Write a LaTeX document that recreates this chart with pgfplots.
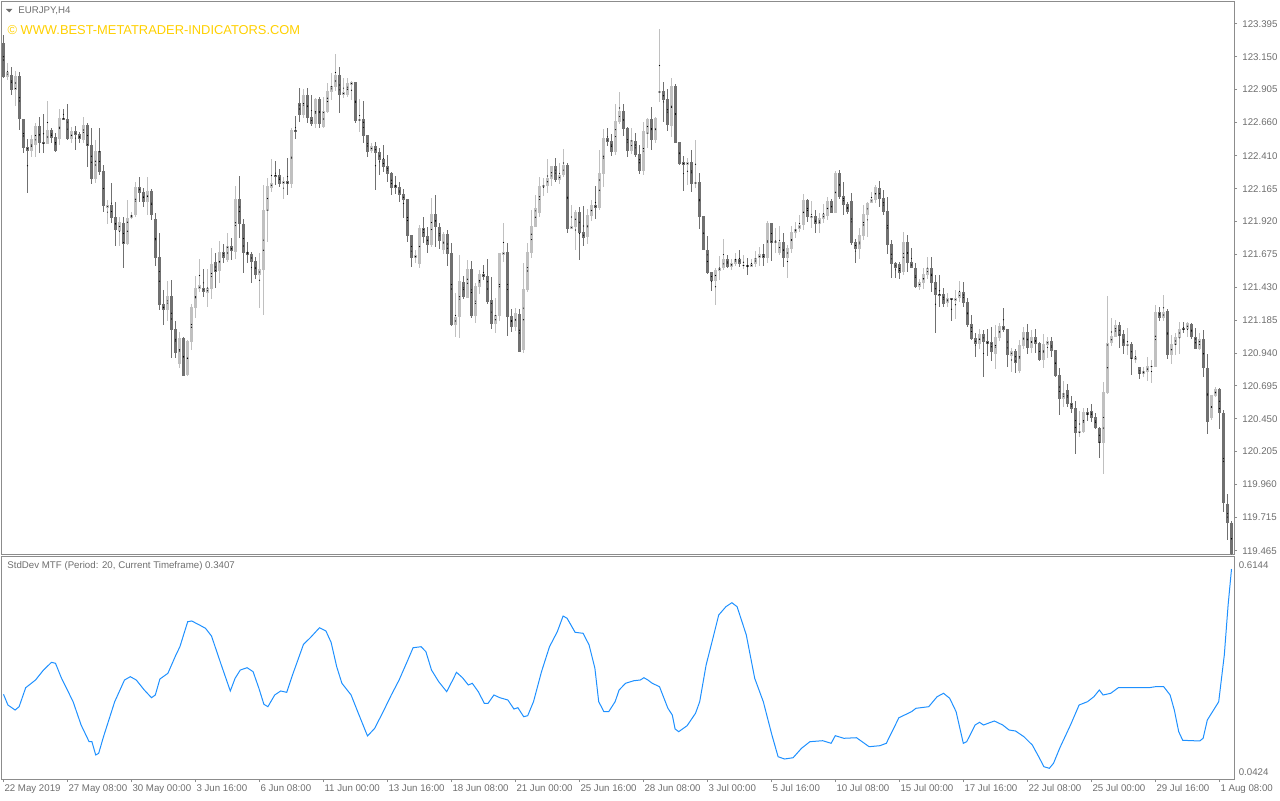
\documentclass[border=0pt]{standalone}
\usepackage{pgfplots}
\pgfplotsset{compat=1.18}
\usepackage{pgfplotstable}
\usepackage{fontspec}
\setmainfont{Liberation Sans}
\definecolor{bull}{RGB}{192,192,192}
\definecolor{bear}{RGB}{112,112,112}
\definecolor{txt}{RGB}{110,110,110}
\definecolor{frm}{RGB}{140,140,140}
\definecolor{sd}{RGB}{30,144,255}
\definecolor{gold}{RGB}{255,208,0}
\newcommand{\lbl}{\fontsize{4.85}{5.8}\selectfont}
\pgfplotsset{candle/.style={only marks, mark=*, mark size=0.01pt, mark options={draw=none, fill=none}}}

\pgfplotstableread{
k o h l c
0 123.250 123.312 122.991 123.001
1 123.001 123.101 122.976 123.038
2 123.014 123.076 122.864 122.902
3 122.902 123.046 122.782 123.006
4 123.006 123.038 122.603 122.683
5 122.685 122.685 122.434 122.471
6 122.479 122.541 122.136 122.449
7 122.449 122.566 122.400 122.536
8 122.491 122.658 122.404 122.633
9 122.633 122.703 122.430 122.509
10 122.514 122.723 122.430 122.499
11 122.499 122.822 122.499 122.603
12 122.603 122.616 122.509 122.546
13 122.553 122.579 122.441 122.447
14 122.538 122.758 122.491 122.691
15 122.691 122.765 122.678 122.688
16 122.685 122.797 122.529 122.536
17 122.536 122.623 122.504 122.596
18 122.596 122.633 122.454 122.566
19 122.573 122.591 122.509 122.536
20 122.534 122.698 122.509 122.641
21 122.641 122.658 122.330 122.484
22 122.491 122.616 122.201 122.238
23 122.238 122.529 122.210 122.447
24 122.447 122.616 122.268 122.290
25 122.298 122.342 121.994 122.036
26 122.024 122.081 121.902 122.044
27 122.044 122.206 121.912 121.949
28 121.957 122.069 121.738 121.857
29 121.852 121.957 121.738 121.919
30 121.912 121.957 121.572 121.753
31 121.753 122.086 121.746 121.945
32 121.945 121.994 121.937 121.969
33 121.969 122.218 121.957 122.180
34 122.180 122.255 122.069 122.136
35 122.141 122.168 122.031 122.069
36 122.069 122.255 121.969 122.148
37 122.148 122.168 121.932 121.969
38 121.940 121.982 121.589 121.651
39 121.654 121.833 121.261 121.298
40 121.303 121.410 121.149 121.261
41 121.261 121.479 121.179 121.365
42 121.365 121.485 120.905 121.112
43 121.119 121.179 120.905 120.942
44 120.858 121.099 120.830 121.054
45 121.054 121.062 120.768 120.768
46 120.776 121.037 120.768 121.029
47 121.024 121.303 120.962 121.285
48 121.278 121.517 121.203 121.427
49 121.415 121.641 121.397 121.447
50 121.430 121.567 121.360 121.395
51 121.390 121.567 121.285 121.423
52 121.417 121.725 121.343 121.604
53 121.619 121.688 121.423 121.546
54 121.554 121.775 121.464 121.693
55 121.693 121.753 121.614 121.651
56 121.634 121.837 121.621 121.738
57 121.738 121.796 121.634 121.701
58 121.693 122.186 121.639 122.089
59 122.089 122.260 121.800 121.904
60 121.902 121.937 121.539 121.688
61 121.693 121.770 121.614 121.671
62 121.678 121.696 121.464 121.621
63 121.626 121.658 121.492 121.522
64 121.522 121.688 121.278 121.567
65 121.559 122.193 121.223 122.007
66 122.001 122.243 121.770 122.186
67 122.173 122.387 122.143 122.210
68 122.268 122.372 122.193 122.262
69 122.268 122.312 122.180 122.201
70 122.201 122.255 122.086 122.225
71 122.223 122.397 122.118 122.201
72 122.201 122.616 122.173 122.603
73 122.603 122.708 122.536 122.591
74 122.807 122.914 122.665 122.715
75 122.715 122.914 122.691 122.864
76 122.864 122.914 122.653 122.695
77 122.703 122.864 122.633 122.648
78 122.648 122.844 122.616 122.835
79 122.835 122.852 122.616 122.648
80 122.628 122.852 122.616 122.745
81 122.740 122.952 122.728 122.894
82 122.889 123.026 122.827 122.932
83 122.926 123.170 122.896 123.014
84 123.014 123.076 122.732 122.864
85 122.864 122.989 122.844 122.889
86 122.864 122.996 122.852 122.952
87 122.939 122.971 122.832 122.964
88 122.964 122.964 122.658 122.673
89 122.673 122.832 122.591 122.685
90 122.685 122.820 122.504 122.561
91 122.566 122.566 122.404 122.441
92 122.447 122.504 122.430 122.484
93 122.484 122.516 122.161 122.430
94 122.439 122.467 122.268 122.380
95 122.385 122.491 122.292 122.325
96 122.335 122.417 122.218 122.275
97 122.285 122.292 122.118 122.173
98 122.193 122.260 122.124 122.173
99 122.180 122.213 122.069 122.118
100 122.126 122.168 121.945 122.081
101 122.089 122.089 121.770 121.815
102 121.820 121.820 121.579 121.651
103 121.651 121.708 121.609 121.671
104 121.602 121.895 121.576 121.870
105 121.870 121.957 121.763 121.807
106 121.813 121.882 121.684 121.746
107 121.746 122.094 121.733 121.977
108 121.977 122.119 121.733 121.878
109 121.882 121.912 121.716 121.778
110 121.708 121.845 121.678 121.828
111 121.828 121.857 121.589 121.678
112 121.688 121.763 121.141 121.149
113 121.149 121.385 121.057 121.211
114 121.206 121.671 121.050 121.479
115 121.472 121.514 121.341 121.355
116 121.355 121.634 121.348 121.567
117 121.567 121.626 121.199 121.216
118 121.216 121.460 121.162 121.440
119 121.435 121.564 121.380 121.529
120 121.529 121.596 121.485 121.509
121 121.514 121.641 121.305 121.323
122 121.335 121.505 121.117 121.156
123 121.156 121.348 121.091 121.223
124 121.216 121.688 121.181 121.688
125 121.671 121.912 121.616 121.696
126 121.696 121.758 121.069 121.211
127 121.216 121.268 121.099 121.136
128 121.136 121.278 121.106 121.236
129 121.231 121.273 120.950 120.950
130 120.962 121.614 120.938 121.417
131 121.410 121.758 121.397 121.696
132 121.688 122.007 121.646 121.887
133 121.882 122.119 121.882 122.024
134 121.986 122.255 121.957 122.186
135 122.180 122.243 122.111 122.193
136 122.186 122.385 122.136 122.248
137 122.238 122.335 122.188 122.335
138 122.335 122.392 122.218 122.230
139 122.230 122.359 122.201 122.268
140 122.268 122.462 122.255 122.342
141 122.342 122.359 121.833 121.865
142 121.865 122.044 121.865 121.887
143 121.882 122.007 121.708 121.994
144 121.994 122.031 121.634 121.837
145 121.840 122.039 121.738 121.800
146 121.807 122.012 121.753 121.969
147 121.964 122.081 121.927 122.044
148 122.044 122.186 121.940 122.024
149 122.024 122.454 122.007 122.285
150 122.275 122.609 122.180 122.541
151 122.541 122.623 122.484 122.516
152 122.521 122.574 122.409 122.441
153 122.441 122.797 122.417 122.670
154 122.665 122.889 122.648 122.747
155 122.747 122.802 122.559 122.609
156 122.616 122.628 122.400 122.447
157 122.447 122.620 122.424 122.529
158 122.524 122.583 122.400 122.417
159 122.422 122.491 122.275 122.298
160 122.298 122.665 122.268 122.596
161 122.573 122.695 122.467 122.685
162 122.685 122.773 122.454 122.529
163 122.529 122.703 122.509 122.695
164 122.882 123.357 122.814 122.894
165 122.894 122.964 122.665 122.827
166 122.835 122.914 122.596 122.641
167 122.633 122.993 122.553 122.932
168 122.934 122.946 122.504 122.509
169 122.514 122.514 122.342 122.355
170 122.367 122.409 122.148 122.342
171 122.342 122.397 122.198 122.367
172 122.367 122.454 122.143 122.201
173 122.201 122.529 122.168 122.216
174 122.216 122.285 121.870 121.957
175 121.962 121.962 121.708 121.708
176 121.708 121.813 121.534 121.539
177 121.542 121.546 121.405 121.479
178 121.479 121.572 121.298 121.559
179 121.554 121.664 121.485 121.576
180 121.572 121.790 121.559 121.639
181 121.639 121.671 121.572 121.584
182 121.584 121.639 121.559 121.609
183 121.609 121.688 121.589 121.646
184 121.646 121.708 121.584 121.609
185 121.591 121.671 121.564 121.596
186 121.596 121.646 121.522 121.589
187 121.584 121.639 121.579 121.604
188 121.604 121.701 121.584 121.651
189 121.646 121.733 121.589 121.676
190 121.676 121.758 121.589 121.646
191 121.646 121.925 121.609 121.907
192 121.907 121.912 121.628 121.758
193 121.758 121.870 121.684 121.778
194 121.688 121.887 121.676 121.768
195 121.768 121.833 121.584 121.651
196 121.651 121.746 121.502 121.721
197 121.718 121.887 121.688 121.843
198 121.837 121.919 121.800 121.870
199 121.865 121.969 121.845 121.895
200 121.895 122.126 121.857 122.081
201 122.081 122.094 121.915 121.957
202 121.949 122.076 121.875 121.964
203 121.962 122.007 121.837 121.902
204 121.902 121.989 121.837 121.949
205 121.940 122.051 121.907 121.977
206 121.964 122.106 121.932 122.074
207 122.074 122.086 121.982 121.989
208 121.989 122.300 121.982 122.285
209 122.285 122.310 122.089 122.101
210 122.111 122.218 121.969 122.044
211 122.051 122.069 121.977 121.989
212 122.074 122.136 121.746 121.763
213 121.770 121.788 121.614 121.716
214 121.716 121.870 121.639 121.820
215 121.813 122.044 121.783 121.977
216 121.969 122.064 121.803 122.064
217 122.061 122.143 122.057 122.089
218 122.081 122.198 122.061 122.176
219 122.176 122.223 122.031 122.089
220 122.094 122.156 121.969 121.994
221 121.999 122.104 121.678 121.746
222 121.751 121.783 121.502 121.604
223 121.609 121.621 121.502 121.572
224 121.602 121.621 121.492 121.539
225 121.542 121.845 121.522 121.766
226 121.766 121.820 121.546 121.614
227 121.617 121.721 121.572 121.576
228 121.576 121.609 121.423 121.435
229 121.435 121.497 121.410 121.467
230 121.460 121.572 121.417 121.529
231 121.522 121.658 121.490 121.572
232 121.572 121.658 121.397 121.464
233 121.467 121.522 121.087 121.373
234 121.380 121.522 121.285 121.375
235 121.380 121.430 121.285 121.305
236 121.311 121.385 121.285 121.348
237 121.348 121.355 121.179 121.335
238 121.328 121.410 121.191 121.348
239 121.348 121.477 121.323 121.393
240 121.393 121.467 121.281 121.315
241 121.318 121.348 121.132 121.149
242 121.156 121.223 121.037 121.044
243 121.050 121.087 120.912 121.007
244 121.007 121.119 120.970 121.082
245 121.082 121.112 120.763 121.024
246 121.030 121.117 120.918 121.007
247 121.024 121.136 120.883 120.950
248 120.933 121.149 120.821 121.062
249 121.054 121.162 121.032 121.144
250 121.144 121.278 121.099 121.112
251 121.119 121.119 120.838 120.925
252 120.920 120.975 120.801 120.957
253 120.957 120.970 120.793 120.868
254 120.806 121.037 120.789 121.000
255 120.992 121.132 120.970 121.099
256 121.099 121.156 120.933 120.980
257 120.980 121.112 120.938 121.062
258 121.062 121.119 120.938 121.007
259 121.017 121.024 120.880 120.888
260 120.888 121.080 120.830 121.007
261 121.000 121.062 120.905 121.032
262 121.032 121.062 120.908 120.957
263 120.962 120.962 120.763 120.768
264 120.776 120.833 120.478 120.597
265 120.597 120.731 120.539 120.639
266 120.664 120.707 120.539 120.560
267 120.569 120.619 120.495 120.522
268 120.532 120.582 120.187 120.341
269 120.341 120.507 120.316 120.358
270 120.349 120.532 120.341 120.502
271 120.502 120.532 120.435 120.478
272 120.507 120.560 120.428 120.457
273 120.465 120.495 120.373 120.378
274 120.383 120.390 120.159 120.271
275 120.271 120.726 120.035 120.651
276 120.644 121.365 120.639 121.017
277 121.012 121.203 120.992 121.067
278 121.062 121.186 121.057 121.147
279 121.154 121.173 120.980 121.069
280 121.082 121.112 120.933 120.994
281 120.994 121.124 120.925 121.007
282 121.007 121.024 120.781 120.893
283 120.888 120.962 120.863 120.908
284 120.833 120.838 120.744 120.781
285 120.781 120.833 120.763 120.806
286 120.801 120.912 120.731 120.843
287 120.838 120.888 120.718 120.843
288 120.838 121.298 120.833 121.244
289 121.244 121.285 121.181 121.203
290 121.203 121.373 121.181 121.244
291 121.255 121.273 120.893 120.925
292 120.925 121.074 120.863 121.005
293 121.000 121.087 120.925 121.062
294 121.057 121.173 120.933 121.124
295 121.124 121.173 121.087 121.112
296 121.117 121.173 121.062 121.162
297 121.162 121.166 121.042 121.062
298 121.062 121.124 120.968 120.975
299 120.968 121.087 120.962 121.042
300 121.042 121.112 120.759 120.826
301 120.826 120.933 120.336 120.428
302 120.453 120.627 120.445 120.627
303 120.619 120.684 120.610 120.669
304 120.669 120.677 120.378 120.490
305 120.490 120.515 119.752 119.819
306 119.814 119.888 119.545 119.670
307 119.670 119.689 119.421 119.441
}\candles

\pgfplotstableread{
k v
0 0.2548
1.1 0.2241
2.9 0.2097
3.9 0.2192
5.55 0.2737
8.0 0.2958
10.0 0.3245
12.0 0.3466
13.0 0.3438
14.45 0.3024
17.4 0.2336
19.4 0.1667
21.4 0.1188
22.1 0.1188
23.05 0.0806
23.8 0.0855
25.0 0.1331
27.8 0.2336
30.25 0.2958
31.7 0.3053
33.2 0.2958
35.2 0.2671
37.0 0.2450
37.95 0.2528
39.1 0.2987
41.1 0.3151
43.1 0.3676
44.1 0.3914
46.05 0.4632
47.05 0.4652
49.0 0.4537
50.5 0.4442
52.0 0.4221
54.45 0.3389
56.7 0.2643
57.9 0.3007
59.2 0.3245
60.9 0.3311
62.4 0.3197
63.85 0.2720
65.1 0.2261
66.1 0.2192
67.8 0.2528
69.3 0.2643
70.8 0.2605
72.25 0.3102
75.0 0.3983
76.7 0.4172
79.0 0.4459
80.6 0.4365
81.9 0.4040
83.3 0.3340
84.6 0.2864
86.9 0.2528
88.55 0.2049
91.0 0.1351
92.8 0.1572
95.0 0.2069
96.95 0.2528
98.9 0.2958
100.9 0.3484
102.4 0.3885
104.4 0.3914
105.6 0.3771
107.0 0.3245
108.8 0.2910
110.8 0.2623
112.3 0.2958
113.25 0.3179
114.75 0.3024
116.2 0.2815
117.2 0.2864
118.7 0.2623
120.2 0.2290
121.15 0.2290
122.6 0.2528
124.1 0.2450
126.1 0.2384
127.6 0.2126
128.6 0.2163
130.05 0.1905
131.05 0.1934
132.5 0.2336
134.5 0.3197
136.5 0.3914
138.45 0.4345
139.9 0.4795
140.9 0.4729
142.9 0.4327
144.9 0.4299
146.4 0.3963
147.85 0.3294
148.8 0.2336
150.1 0.2049
151.3 0.2049
152.9 0.2336
153.9 0.2671
155.5 0.2864
157.6 0.2938
159.2 0.2958
160.1 0.3024
161.1 0.2958
162.2 0.2864
164.0 0.2766
166.1 0.2146
167.2 0.1954
167.9 0.1552
168.8 0.1475
170.9 0.1647
173.0 0.2003
174.05 0.2336
175.65 0.3389
177.45 0.4201
178.8 0.4824
180.6 0.5062
182.1 0.5177
183.4 0.5062
185.7 0.4250
187.8 0.3007
189.95 0.2336
192.1 0.1380
193.65 0.0757
195.25 0.0691
197.4 0.0728
199.5 0.0998
201.6 0.1188
204.8 0.1216
206.9 0.1142
207.95 0.1360
210.1 0.1285
213.25 0.1302
216.4 0.1044
219.1 0.1073
220.7 0.1142
223.85 0.1876
227.0 0.2049
228.1 0.2146
231.3 0.2192
233.4 0.2479
235.0 0.2577
236.55 0.2433
238.15 0.2049
239.95 0.1142
240.8 0.1188
242.9 0.1667
244.0 0.1744
245.0 0.1667
247.7 0.1782
249.8 0.1667
251.4 0.1523
253.0 0.1495
255.1 0.1331
257.2 0.1093
258.8 0.0757
260.1 0.0470
261.45 0.0424
262.5 0.0568
264.1 0.1015
266.75 0.1667
268.9 0.2241
271.0 0.2336
272.6 0.2479
273.95 0.2671
274.9 0.2528
276.8 0.2577
278.7 0.2737
281.6 0.2737
286.35 0.2737
287.95 0.2766
290.05 0.2766
291.65 0.2528
292.7 0.2097
293.8 0.1475
294.8 0.1228
299.05 0.1208
299.9 0.1285
300.95 0.1810
303.3 0.2241
303.8 0.2336
305.2 0.3676
306.15 0.5111
307 0.6144
}\stddev

\begin{document}
\begin{tikzpicture}
\path[use as bounding box] (0,0) rectangle (640pt,400pt);

\begin{axis}[
  at={(0.9pt,122.75pt)}, anchor=south west,
  width=616.2pt, height=276.5pt, scale only axis,
  xmin=-0.425, xmax=307.675, ymin=119.437, ymax=123.562,
  xtick=\empty,
  ytick={119.465,119.715,119.960,120.205,120.450,120.695,120.940,121.185,121.430,121.675,121.920,122.165,122.410,122.660,122.905,123.150,123.395},
  yticklabels={119.465,119.715,119.960,120.205,120.450,120.695,120.940,121.185,121.430,121.675,121.920,122.165,122.410,122.660,122.905,123.150,123.395},
  ytick pos=right, yticklabel pos=right,
  tick align=outside, major tick length=1.5pt,
  tick style={frm, line width=0.5pt},
  axis line style={frm, line width=0.5pt},
  yticklabel style={font=\lbl, text=txt, inner sep=0pt, xshift=2.4pt},
  clip=true,
]
% bullish / bearish wicks
\addplot[candle, restrict expr to domain={\thisrow{c}-\thisrow{o}}{0:100},
  error bars/.cd, y dir=both, y explicit, error mark=none,
  error bar style={bull, line width=0.5pt}]
  table[x=k, y expr={(\thisrow{h}+\thisrow{l})/2}, y error expr={(\thisrow{h}-\thisrow{l})/2}] {\candles};
\addplot[candle, restrict expr to domain={\thisrow{o}-\thisrow{c}}{0.0000001:100},
  error bars/.cd, y dir=both, y explicit, error mark=none,
  error bar style={bear, line width=0.5pt}]
  table[x=k, y expr={(\thisrow{h}+\thisrow{l})/2}, y error expr={(\thisrow{h}-\thisrow{l})/2}] {\candles};
% bodies
\addplot[candle, restrict expr to domain={\thisrow{c}-\thisrow{o}}{0:100},
  error bars/.cd, y dir=both, y explicit, error mark=none,
  error bar style={bull, line width=1.5pt}]
  table[x=k, y expr={(\thisrow{o}+\thisrow{c})/2}, y error expr={max(abs(\thisrow{c}-\thisrow{o})/2,0.0037)}] {\candles};
\addplot[candle, restrict expr to domain={\thisrow{o}-\thisrow{c}}{0.0000001:100},
  error bars/.cd, y dir=both, y explicit, error mark=none,
  error bar style={bear, line width=1.5pt}]
  table[x=k, y expr={(\thisrow{o}+\thisrow{c})/2}, y error expr={max(abs(\thisrow{c}-\thisrow{o})/2,0.0037)}] {\candles};
\end{axis}

\begin{axis}[
  at={(0.9pt,10.5pt)}, anchor=south west,
  width=616.2pt, height=111.25pt, scale only axis,
  xmin=-0.425, xmax=307.675, ymin=0.0117, ymax=0.6503,
  xtick={0,16,...,304},
  xticklabels={22 May 2019,27 May 08:00,30 May 00:00,3 Jun 16:00,6 Jun 08:00,11 Jun 00:00,13 Jun 16:00,18 Jun 08:00,21 Jun 00:00,25 Jun 16:00,28 Jun 08:00,3 Jul 00:00,5 Jul 16:00,10 Jul 08:00,15 Jul 00:00,17 Jul 16:00,22 Jul 08:00,25 Jul 00:00,29 Jul 16:00,1 Aug 08:00},
  xtick pos=bottom,
  ytick={0.6144}, yticklabels={0.6144},
  extra y ticks={0.0424}, extra y tick labels={0.0424},
  extra y tick style={yticklabel style={yshift=-4pt}, ytick style={draw=none}},
  ytick pos=right, yticklabel pos=right,
  tick align=outside, major tick length=1.5pt,
  tick style={frm, line width=0.5pt},
  ytick style={draw=none},
  axis line style={frm, line width=0.5pt},
  yticklabel style={font=\lbl, text=txt, inner sep=0pt, xshift=0.6pt, yshift=2pt},
  xticklabel style={font=\lbl, text=txt, inner sep=0pt, anchor=base west, xshift=0.3pt, yshift=-4.5pt},
  clip=true,
]
\addplot[sd, line width=0.5pt, mark=none] table[x=k, y=v] {\stddev};
\end{axis}

\fill[txt] (3pt,395.5pt) -- (6.2pt,395.5pt) -- (4.6pt,393.8pt) -- cycle;
\node[anchor=west, inner sep=0pt, font=\lbl, text=txt] at (9pt,394.6pt) {EURJPY,H4};
\node[anchor=west, inner sep=0pt, font=\fontsize{6.44}{7.5}\selectfont, text=gold] at (3.6pt,384.75pt) {© WWW.BEST-METATRADER-INDICATORS.COM};
\node[anchor=west, inner sep=0pt, font=\lbl, text=txt] at (3.5pt,117.2pt) {StdDev MTF (Period: 20, Current Timeframe) 0.3407};
\end{tikzpicture}
\end{document}
